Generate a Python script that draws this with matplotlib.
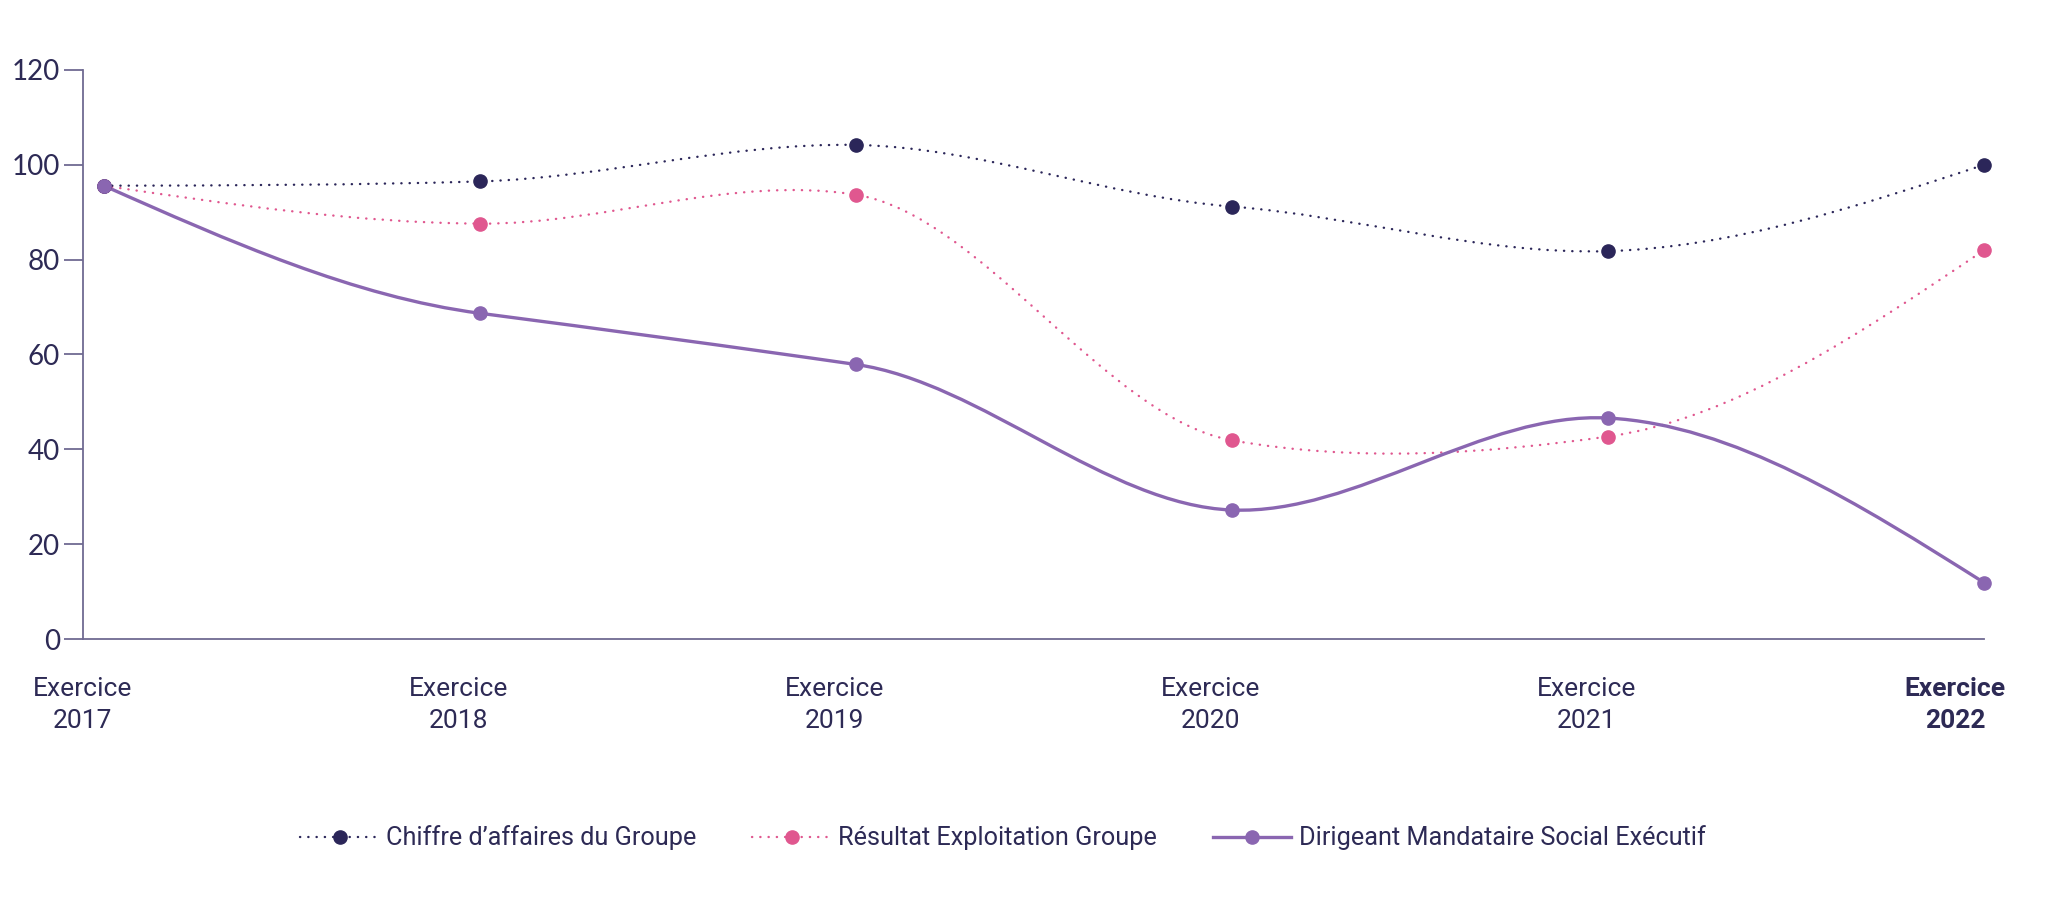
import matplotlib
matplotlib.use("Agg")
import matplotlib.pyplot as plt
from matplotlib.path import Path
from matplotlib.patches import PathPatch
from matplotlib.lines import Line2D
from matplotlib.transforms import ScaledTranslation
import numpy as np

years = ["2017", "2018", "2019", "2020", "2021", "2022"]
tick_labels = ["Exercice\n" + y for y in years]
chiffre = [95.6, 96.5, 104.2, 91.2, 81.8, 100.0]
resultat = [95.6, 87.6, 93.7, 41.9, 42.7, 82.0]
dirigeant = [95.6, 68.7, 57.9, 27.2, 46.6, 11.9]
series_names = ["Chiffre d\u2019affaires du Groupe", "R\u00e9sultat Exploitation Groupe",
                "Dirigeant Mandataire Social Ex\u00e9cutif"]
y_ticks = [0, 20, 40, 60, 80, 100, 120]

NAVY = "#2b2659"
PINK = "#e0578f"
PURPLE = "#8a66b1"
AXIS = "#6f6a92"
TEXT = "#2d2a55"

W, H = 2063, 905
fig = plt.figure(figsize=(W / 100, H / 100), dpi=100)
ax = fig.add_axes([83 / W, 1 - 639 / H, (1984 - 83) / W, (639 - 70) / H])

x = np.arange(len(years))
ax.set_xlim(-21 / 379, (1984 - 104) / 379)
ax.set_ylim(0, 120)


def spline_path(xs, ys, k=0.55):
    xs = np.asarray(xs, float)
    ys = np.asarray(ys, float)
    n = len(xs)
    m = np.zeros(n)
    for i in range(1, n - 1):
        m[i] = k * (ys[i + 1] - ys[i - 1]) / (xs[i + 1] - xs[i - 1])
    m[0] = 1.5 * (ys[1] - ys[0]) / (xs[1] - xs[0]) - 0.5 * m[1]
    m[-1] = 1.5 * (ys[-1] - ys[-2]) / (xs[-1] - xs[-2]) - 0.5 * m[-2]
    verts = [(xs[0], ys[0])]
    codes = [Path.MOVETO]
    for i in range(n - 1):
        h = xs[i + 1] - xs[i]
        verts += [(xs[i] + h / 3, ys[i] + m[i] * h / 3),
                  (xs[i + 1] - h / 3, ys[i + 1] - m[i + 1] * h / 3),
                  (xs[i + 1], ys[i + 1])]
        codes += [Path.CURVE4] * 3
    return Path(verts, codes)


dotted = (0, (0.1, 3.4))
for ys, col, ls, lw, z in [(chiffre, NAVY, dotted, 1.7, 4),
                           (resultat, PINK, dotted, 1.7, 3),
                           (dirigeant, PURPLE, "-", 2.4, 5)]:
    patch = PathPatch(spline_path(x, ys), facecolor="none", edgecolor=col,
                      linewidth=lw, linestyle=ls, capstyle="round", zorder=z, clip_on=False)
    ax.add_patch(patch)
    ax.plot(x, ys, linestyle="none", marker="o", markersize=9.5, color=col,
            zorder=z + 5, clip_on=False)

for s in ["top", "right"]:
    ax.spines[s].set_visible(False)
for s in ["left", "bottom"]:
    ax.spines[s].set_color(AXIS)
    ax.spines[s].set_linewidth(1.3)

ax.set_yticks(y_ticks)
ax.set_yticklabels([str(v) for v in y_ticks], family=["Lato", "DejaVu Sans"],
                   fontsize=20, color=TEXT)
ax.tick_params(axis="y", direction="out", length=13.5, width=1.3, color=AXIS, pad=3)

ax.set_xticks(x)
ax.set_xticklabels(tick_labels, family=["Roboto", "DejaVu Sans"],
                   fontsize=19, color=TEXT, linespacing=1.45)
ax.tick_params(axis="x", length=0, pad=27)
for i, lab in enumerate(ax.get_xticklabels()):
    dx = -21 if i < len(years) - 1 else -29
    lab.set_transform(lab.get_transform() + ScaledTranslation(dx / 100, 0, fig.dpi_scale_trans))
    if i == len(years) - 1:
        lab.set_fontweight("bold")

handles = [
    Line2D([], [], color=NAVY, linestyle=dotted, linewidth=1.7, marker="o", markersize=9.5,
           dash_capstyle="round"),
    Line2D([], [], color=PINK, linestyle=dotted, linewidth=1.7, marker="o", markersize=9.5,
           dash_capstyle="round"),
    Line2D([], [], color=PURPLE, linestyle="-", linewidth=2.4, marker="o", markersize=9.5),
]
leg = fig.legend(handles, series_names, loc="center", bbox_to_anchor=(1003 / W, 1 - 838 / H),
                 ncol=3, frameon=False, handlelength=3.1, handletextpad=0.3,
                 columnspacing=2.2,
                 prop={"family": ["Roboto", "DejaVu Sans"], "size": 18.2})
for t in leg.get_texts():
    t.set_color(TEXT)

fig.savefig("out.png", dpi=100, facecolor="white")
